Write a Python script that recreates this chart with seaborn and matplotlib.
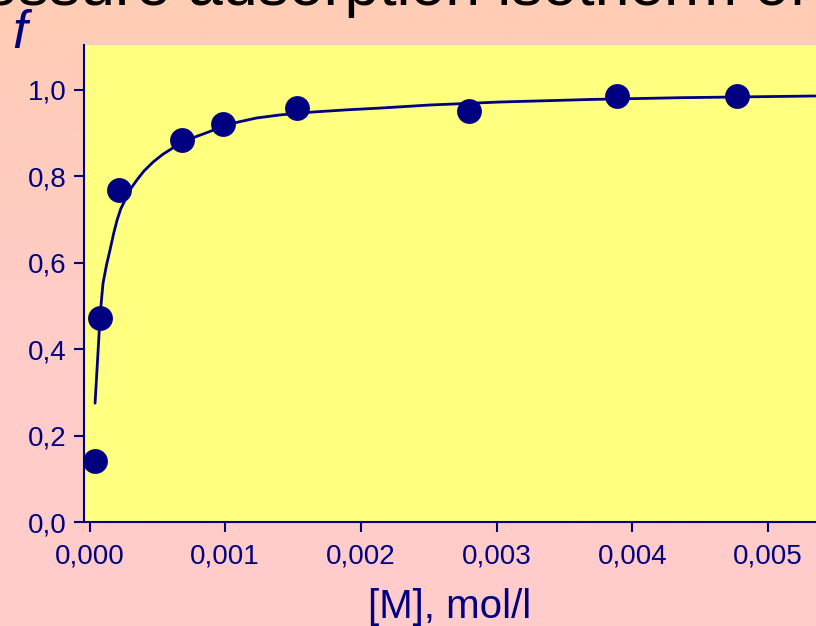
import numpy as np
import matplotlib
matplotlib.use("Agg")
import matplotlib.pyplot as plt
from matplotlib.colors import LinearSegmentedColormap
import seaborn as sns
import pandas as pd

# measured points
conc = [0.00004, 0.00008, 0.00022, 0.00068, 0.00098, 0.00153, 0.00280, 0.00389, 0.00477]
frac = [0.141, 0.472, 0.769, 0.884, 0.921, 0.958, 0.951, 0.986, 0.986]

# fitted curve
curve_x = [0.0000405, 0.0000774, 0.000088, 0.0000995, 0.000125, 0.000151, 0.000177,
           0.000203, 0.00023, 0.000262, 0.0003, 0.00035, 0.0004, 0.000468, 0.00054,
           0.000615, 0.0007, 0.000777, 0.00088, 0.00100, 0.0011, 0.00123, 0.0014,
           0.00165, 0.0019, 0.00214, 0.0025, 0.00302, 0.0037, 0.00435, 0.00535]
curve_y = [0.275, 0.475, 0.515, 0.553, 0.595, 0.630, 0.667,
           0.699, 0.725, 0.745, 0.770, 0.792, 0.812, 0.833, 0.851,
           0.866, 0.880, 0.891, 0.903, 0.918, 0.926, 0.935, 0.942,
           0.949, 0.954, 0.958, 0.965, 0.972, 0.978, 0.982, 0.986]

xticks = [0.000, 0.001, 0.002, 0.003, 0.004, 0.005]
xticklabels = ["0,000", "0,001", "0,002", "0,003", "0,004", "0,005"]
yticks = [0.0, 0.2, 0.4, 0.6, 0.8, 1.0]
yticklabels = ["0,0", "0,2", "0,4", "0,6", "0,8", "1,0"]

sns.set_theme(style="white")
plt.rcParams['font.family'] = ['Liberation Sans', 'DejaVu Sans']

navy = "#000080"
W, H = 816, 626
fig = plt.figure(figsize=(W / 100, H / 100), dpi=100)

# background gradient
bg = fig.add_axes([0, 0, 1, 1], zorder=-10)
cmap = LinearSegmentedColormap.from_list("bg", ["#FFCCB5", "#FFCCC8", "#FFCCCC"])
grad = np.linspace(0, 1, 256).reshape(-1, 1)
bg.imshow(grad, aspect="auto", cmap=cmap, extent=[0, 1, 0, 1], origin="upper")
bg.set_axis_off()

left, bottom, top = 84, 522, 45
ax = fig.add_axes([left / W, (H - bottom) / H, 1 - left / W, (bottom - top) / H])
ax.set_facecolor("#FFFF80")

df_pts = pd.DataFrame({"conc": conc, "frac": frac})
df_curve = pd.DataFrame({"x": curve_x, "y": curve_y})

sns.lineplot(data=df_curve, x="x", y="y", ax=ax, color=navy, linewidth=2.0,
             estimator=None, sort=False, zorder=2)
sns.scatterplot(data=df_pts, x="conc", y="frac", ax=ax, color=navy, s=320,
                edgecolor=navy, linewidth=0, zorder=3)

ax.set_xlim(-0.000041, 0.005354)
ax.set_ylim(0, 1.104)
ax.set_xticks(xticks)
ax.set_xticklabels(xticklabels)
ax.set_yticks(yticks)
ax.set_yticklabels(yticklabels)

for s in ["top", "right"]:
    ax.spines[s].set_visible(False)
for s in ["left", "bottom"]:
    ax.spines[s].set_color(navy)
    ax.spines[s].set_linewidth(1.5)

ax.tick_params(axis="both", direction="out", length=7.5, width=1.5, color=navy,
               labelcolor=navy, labelsize=20)
ax.tick_params(axis="x", pad=8, bottom=True)
ax.tick_params(axis="y", pad=5, left=True)

ax.set_xlabel("[M], mol/l", color=navy, fontsize=29, labelpad=13)
ax.set_ylabel("")

fig.text(12 / W, 1 - 48 / H, "f", color=navy, fontsize=38, style="italic",
         ha="left", va="baseline")

fig.text(807 / W, 1 - 5 / H, "Low-pressure adsorption isotherm of", color="black",
         fontsize=45, ha="right", va="baseline")

fig.savefig("out.png", dpi=100)
